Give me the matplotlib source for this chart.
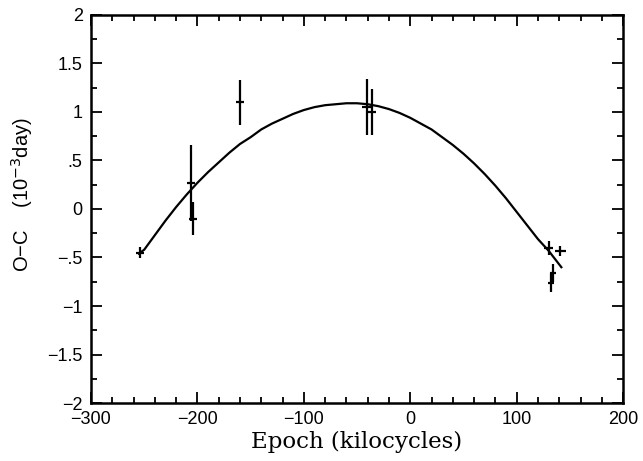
import matplotlib
matplotlib.use("Agg")
import matplotlib.pyplot as plt
from matplotlib.ticker import MultipleLocator, FuncFormatter

# O-C measurements (kilocycles, 1e-3 day)
epoch = [-254, -206, -204, -160, -41, -36, 130, 141, 134, 132]
oc = [-0.45, 0.27, -0.10, 1.10, 1.05, 1.00, -0.40, -0.43, -0.66, -0.76]
oc_err = [0.06, 0.39, 0.17, 0.23, 0.29, 0.24, 0.07, 0.05, 0.09, 0.10]
epoch_err = [4, 4, 4, 4, 4, 4, 4, 5, 3, 3]

# fitted curve
fit_epoch = [-255, -250, -240, -230, -220, -210, -200, -190, -180, -170, -160,
             -150, -140, -130, -120, -110, -100, -90, -80, -70, -60, -50, -40,
             -30, -20, -10, 0, 10, 20, 30, 40, 50, 60, 70, 80, 90, 100, 110,
             120, 130, 142]
fit_oc = [-0.46, -0.42, -0.27, -0.12, 0.02, 0.15, 0.27, 0.38, 0.48, 0.58, 0.67,
          0.74, 0.82, 0.88, 0.93, 0.98, 1.02, 1.05, 1.07, 1.08, 1.09, 1.09, 1.08,
          1.06, 1.03, 0.99, 0.94, 0.88, 0.82, 0.74, 0.66, 0.57, 0.47, 0.36,
          0.24, 0.11, -0.03, -0.17, -0.31, -0.43, -0.60]

fig = plt.figure(figsize=(6.43, 4.61), dpi=100)
ax = fig.add_axes([0.1415, 0.1258, 0.8275, 0.8417])

ax.plot(fit_epoch, fit_oc, color="black", lw=1.6)
ax.errorbar(epoch, oc, yerr=oc_err, xerr=epoch_err, fmt="none",
            ecolor="black", elinewidth=1.6, capsize=0)

ax.set_xlim(-300, 200)
ax.set_ylim(-2, 2)
ax.xaxis.set_major_locator(MultipleLocator(100))
ax.xaxis.set_minor_locator(MultipleLocator(20))
ax.yaxis.set_major_locator(MultipleLocator(0.5))
ax.yaxis.set_minor_locator(MultipleLocator(0.25))

def yfmt(v, pos):
    s = ("%g" % v).replace("0.", ".")
    return s.replace("-", "\u2212")

def xfmt(v, pos):
    return ("%d" % v).replace("-", "\u2212")

ax.yaxis.set_major_formatter(FuncFormatter(yfmt))
ax.xaxis.set_major_formatter(FuncFormatter(xfmt))

ax.tick_params(which="both", direction="in", top=True, right=True,
               width=1.3, labelsize=13)
ax.tick_params(which="major", length=8, pad=6)
ax.tick_params(which="minor", length=4)
for t in ax.get_xticklabels() + ax.get_yticklabels():
    t.set_family("Liberation Sans")
for s in ax.spines.values():
    s.set_linewidth(1.8)

ax.set_xlabel("Epoch (kilocycles)", family="DejaVu Serif", fontsize=16.5, labelpad=2)
ax.set_ylabel("O\u2212C    (10$^{-3}$day)", family="Liberation Sans", fontsize=14.5)
ax.yaxis.set_label_coords(-0.105, 0.536)

fig.savefig("out.png", dpi=100)
